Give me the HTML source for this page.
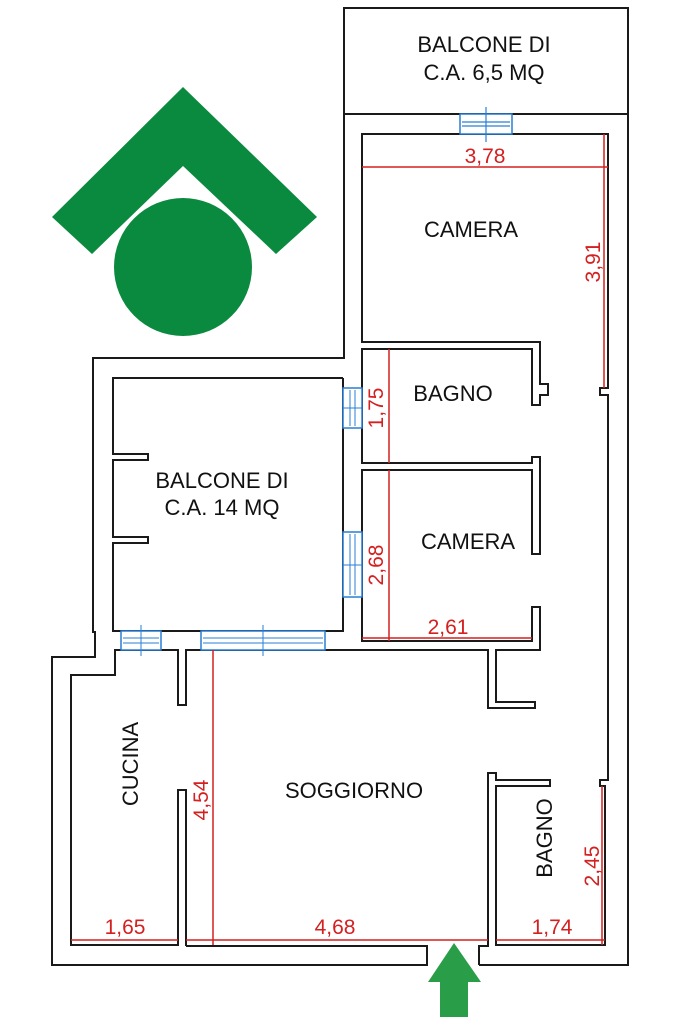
<!DOCTYPE html>
<html><head><style>
html,body{margin:0;padding:0;background:#fff;}
svg{display:block}
text{font-family:"Liberation Sans",sans-serif;}
.w{fill:none;stroke:#1a1a1a;stroke-width:2}
.r{stroke:#d42020;stroke-width:1.5;fill:none}
.rt{fill:#d42020;font-size:21px;text-anchor:middle}
.bt{fill:#111;font-size:22px;text-anchor:middle}
.win{fill:#fff;stroke:#2a7fd4;stroke-width:1.5}
</style></head><body>
<svg width="683" height="1025" viewBox="0 0 683 1025" xmlns="http://www.w3.org/2000/svg">
<polygon points="183,87 317,217 276,254 183,166 92,254 52,217" fill="#0a8a3e"/>
<circle cx="183" cy="267" r="69" fill="#0a8a3e"/>

<rect x="344" y="8" width="284" height="106" class="w"/>
<polyline class="w" points="344,114 344,358 93,358 93,632 95,632 95,657 52,657 52,965 427,965 427,946 186,946"/>
<polyline class="w" points="479,965 628,965 628,114"/>
<polyline class="w" points="479,965 479,946 488,946 488,773 496,773 496,780 550,780 550,786 496,786 496,945 605,945 605,786 600,786 600,780 608,780 608,395 600,395 600,388 608,388 608,134 362,134 362,342 540,342 540,384 548,384 548,395 540,395 540,405 532,405 532,349 362,349 362,463 532,463 532,457 540,457 540,554 532,554 532,470 362,470 362,641 532,641 532,607 540,607 540,650 496,650 496,702 535,702 535,708 488,708 488,650 186,650 186,705 178,705 178,650 115,650 115,675 71,675 71,945 178,945 178,790 186,790 186,946"/>
<polyline class="w" points="343,378 113,378 113,454 148,454 148,460 113,460 113,537 148,537 148,543 113,543 113,631 343,631 343,378"/>

<rect class="win" x="460" y="114" width="52" height="20"/>
<line x1="462" y1="122" x2="510" y2="122" stroke="#2a7fd4" stroke-width="1.2"/>
<line x1="462" y1="126" x2="510" y2="126" stroke="#2a7fd4" stroke-width="1.2"/>
<line x1="486" y1="107" x2="486" y2="142" stroke="#2a7fd4" stroke-width="1.2"/>
<rect class="win" x="343" y="388" width="19" height="40"/>
<line x1="350" y1="390" x2="350" y2="426" stroke="#2a7fd4"/><line x1="355" y1="390" x2="355" y2="426" stroke="#2a7fd4"/>
<line x1="343" y1="408" x2="362" y2="408" stroke="#2a7fd4"/>
<rect class="win" x="343" y="532" width="19" height="65"/>
<line x1="350" y1="534" x2="350" y2="595" stroke="#2a7fd4"/><line x1="355" y1="534" x2="355" y2="595" stroke="#2a7fd4"/>
<line x1="343" y1="565" x2="362" y2="565" stroke="#2a7fd4"/>
<rect class="win" x="121" y="631" width="40" height="19"/>
<line x1="123" y1="638" x2="159" y2="638" stroke="#2a7fd4"/><line x1="123" y1="643" x2="159" y2="643" stroke="#2a7fd4"/>
<line x1="141" y1="625" x2="141" y2="656" stroke="#2a7fd4"/>
<rect class="win" x="201" y="631" width="124" height="19"/>
<line x1="203" y1="638" x2="323" y2="638" stroke="#2a7fd4"/><line x1="203" y1="643" x2="323" y2="643" stroke="#2a7fd4"/>
<line x1="263" y1="625" x2="263" y2="656" stroke="#2a7fd4"/>

<line class="r" x1="362" y1="167" x2="608" y2="167"/>
<line class="r" x1="604" y1="134" x2="604" y2="388"/>
<line class="r" x1="389" y1="349" x2="389" y2="463"/>
<line class="r" x1="389" y1="470" x2="389" y2="641"/>
<line class="r" x1="362" y1="638" x2="532" y2="638"/>
<line class="r" x1="213" y1="650" x2="213" y2="945"/>
<line class="r" x1="71" y1="940" x2="178" y2="940"/>
<line class="r" x1="186" y1="940" x2="488" y2="940"/>
<line class="r" x1="496" y1="940" x2="605" y2="940"/>
<line class="r" x1="602" y1="786" x2="602" y2="945"/>

<text class="rt" x="485" y="163">3,78</text>
<text class="rt" transform="translate(600,262) rotate(-90)">3,91</text>
<text class="rt" transform="translate(383,408) rotate(-90)">1,75</text>
<text class="rt" transform="translate(383,565) rotate(-90)">2,68</text>
<text class="rt" x="448" y="634">2,61</text>
<text class="rt" transform="translate(208,800) rotate(-90)">4,54</text>
<text class="rt" x="125" y="934">1,65</text>
<text class="rt" x="335" y="934">4,68</text>
<text class="rt" x="552" y="934">1,74</text>
<text class="rt" transform="translate(599,866) rotate(-90)">2,45</text>

<text class="bt" x="484" y="52">BALCONE DI</text>
<text class="bt" x="484" y="80">C.A. 6,5 MQ</text>
<text class="bt" x="471" y="237">CAMERA</text>
<text class="bt" x="453" y="401">BAGNO</text>
<text class="bt" x="222" y="488">BALCONE DI</text>
<text class="bt" x="222" y="515">C.A. 14 MQ</text>
<text class="bt" x="468" y="549">CAMERA</text>
<text class="bt" transform="translate(138,764) rotate(-90)">CUCINA</text>
<text class="bt" x="354" y="798">SOGGIORNO</text>
<text class="bt" transform="translate(552,838) rotate(-90)">BAGNO</text>

<polygon points="454,943 481,982 468,982 468,1017 440,1017 440,982 428,982" fill="#2a9d48"/>
</svg>
</body></html>
